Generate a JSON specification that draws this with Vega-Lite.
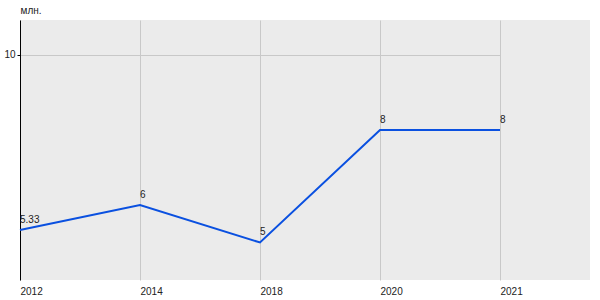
{
  "$schema": "https://vega.github.io/schema/vega-lite/v6.json",
  "autosize": {"type": "none"},
  "padding": {"left": 20, "top": 20, "right": 10, "bottom": 20},
  "width": 570,
  "height": 260,
  "background": "white",
  "config": {
    "view": {"fill": "#ebebeb", "stroke": null},
    "font": "Liberation Sans"
  },
  "data": {"values": [
    {"year": "2012", "value": 5.33, "label": "5.33"},
    {"year": "2014", "value": 6, "label": "6"},
    {"year": "2018", "value": 5, "label": "5"},
    {"year": "2020", "value": 8, "label": "8"},
    {"year": "2021", "value": 8, "label": "8"}
  ]},
  "encoding": {
    "x": {"field": "year", "type": "ordinal", "sort": null,
      "scale": {"type": "point", "range": [0, 480], "padding": 0},
      "axis": {"title": null, "domain": false, "ticks": false, "labelAngle": 0, "labelAlign": "left", "labelPadding": 6, "labelFontSize": 10, "labelColor": "#222", "grid": true, "gridColor": "#c8c8c8", "gridWidth": 1}},
    "y": {"field": "value", "type": "quantitative",
      "scale": {"domain": [4, 10.93], "nice": false, "zero": false},
      "axis": {"values": [10], "title": "млн.", "titleAngle": 0, "titleAlign": "left", "titleBaseline": "middle", "titleX": 0, "titleY": -10, "titleFontSize": 10, "titleFontWeight": "normal", "titleColor": "#222", "labelFontSize": 10, "labelColor": "#222", "labelPadding": 2, "tickSize": 3, "tickColor": "black", "domainColor": "black", "domainWidth": 1, "grid": true, "gridColor": "#c8c8c8"}}
  },
  "layer": [
    {"mark": {"type": "rule", "color": "black", "strokeWidth": 1}, "encoding": {"y": {"datum": 4}}},
    {"mark": {"type": "line", "color": "#0a50e0", "strokeWidth": 2}},
    {"mark": {"type": "text", "align": "left", "baseline": "bottom", "dy": -5, "fontSize": 10, "color": "#222"}, "encoding": {"text": {"field": "label"}}}
  ]
}
